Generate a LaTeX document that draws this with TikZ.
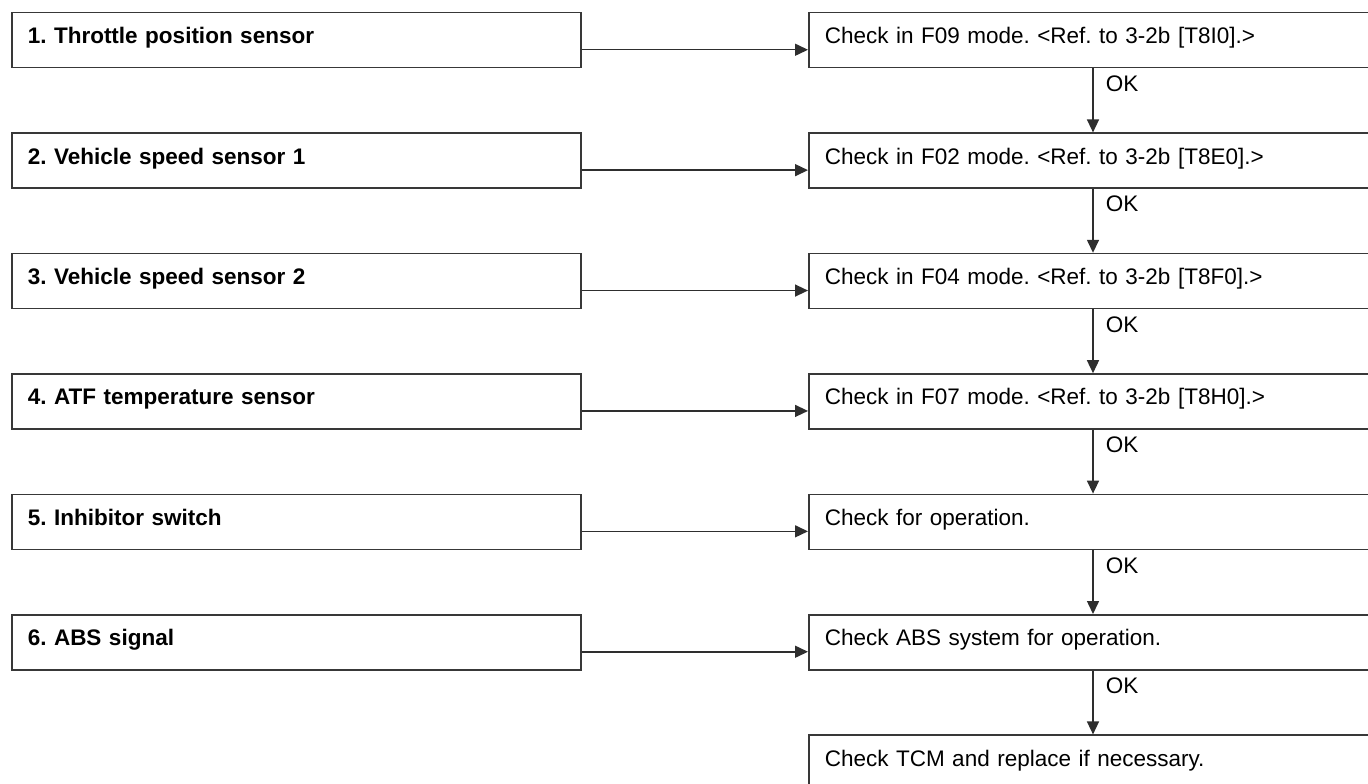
\documentclass[tikz,border=0pt]{standalone}
\usepackage{fontspec}
\setmainfont{Liberation Sans}
\usetikzlibrary{arrows.meta,positioning}
\frenchspacing

\tikzset{
	sensor/.style={draw=black!78, line width=1.5pt, anchor=north west, inner xsep=16pt, inner ysep=2pt,
		text width=537pt, minimum height=55pt, text height=16pt, text depth=9pt, align=left,
		font=\fontsize{22.5}{26}\selectfont\bfseries},
	check/.style={sensor, text width=560pt, font=\fontsize{22.5}{26}\selectfont},
	flow/.style={-{Triangle[length=13pt,width=12pt]}, draw=black!82, line width=1.5pt},
	ok/.style={pos=0, anchor=base west, xshift=12pt, yshift=-23pt, inner sep=0pt, font=\fontsize{22.5}{26}\selectfont}
}

\begin{document}
\begin{tikzpicture}[x=1pt,y=-1pt]
		\useasboundingbox (0,0) rectangle (1368,784);
		% left column
		\node[sensor] (s1) at (11,12) {1. Throttle position sensor};
		\node[sensor] (s2) at (11,132.4) {2. Vehicle speed sensor 1};
		\node[sensor] (s3) at (11,252.8) {3. Vehicle speed sensor 2};
		\node[sensor] (s4) at (11,373.2) {4. ATF temperature sensor};
		\node[sensor] (s5) at (11,493.6) {5. Inhibitor switch};
		\node[sensor] (s6) at (11,614) {6. ABS signal};
		% right column
		\node[check] (c1) at (808,12) {Check in F09 mode. <Ref. to 3-2b [T8I0].>};
		\node[check] (c2) at (808,132.4) {Check in F02 mode. <Ref. to 3-2b [T8E0].>};
		\node[check] (c3) at (808,252.8) {Check in F04 mode. <Ref. to 3-2b [T8F0].>};
		\node[check] (c4) at (808,373.2) {Check in F07 mode. <Ref. to 3-2b [T8H0].>};
		\node[check] (c5) at (808,493.6) {Check for operation.};
		\node[check] (c6) at (808,614) {Check ABS system for operation.};
		\node[check] (c7) at (808,734.4) {Check TCM and replace if necessary.};
		\coordinate (okx) at (1093,0);
		% sensor -> check
		\draw[flow] ([yshift=-9.5pt]s1.east) -- ([yshift=-9.5pt]c1.west);
		\draw[flow] ([yshift=-9.5pt]s2.east) -- ([yshift=-9.5pt]c2.west);
		\draw[flow] ([yshift=-9.5pt]s3.east) -- ([yshift=-9.5pt]c3.west);
		\draw[flow] ([yshift=-9.5pt]s4.east) -- ([yshift=-9.5pt]c4.west);
		\draw[flow] ([yshift=-9.5pt]s5.east) -- ([yshift=-9.5pt]c5.west);
		\draw[flow] ([yshift=-9.5pt]s6.east) -- ([yshift=-9.5pt]c6.west);
		% OK chain
		\draw[flow] (c1.south -| okx) -- node[ok] {OK} (c2.north -| okx);
		\draw[flow] (c2.south -| okx) -- node[ok] {OK} (c3.north -| okx);
		\draw[flow] (c3.south -| okx) -- node[ok] {OK} (c4.north -| okx);
		\draw[flow] (c4.south -| okx) -- node[ok] {OK} (c5.north -| okx);
		\draw[flow] (c5.south -| okx) -- node[ok] {OK} (c6.north -| okx);
		\draw[flow] (c6.south -| okx) -- node[ok] {OK} (c7.north -| okx);
	\end{tikzpicture}
\end{document}
